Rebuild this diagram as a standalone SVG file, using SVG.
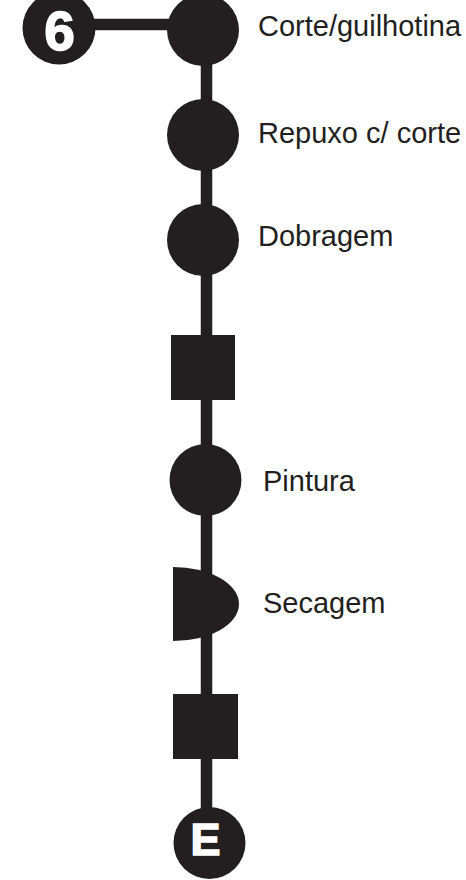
<svg xmlns="http://www.w3.org/2000/svg" width="466" height="880" viewBox="0 0 466 880">
<style>
.s{fill:#231f20}
.ln{stroke:#231f20;stroke-width:11.5;fill:none}
.lb{font-family:"Liberation Sans",Arial,sans-serif;font-size:29px;fill:#231f20}
.bd{font-family:"Liberation Sans",Arial,sans-serif;font-weight:bold;fill:#fff;stroke:#fff;stroke-width:1.5;text-anchor:middle}
</style>
<rect width="466" height="880" fill="#fff"/>
<g id="connectors">
<line class="ln" x1="90" y1="24.5" x2="180" y2="24.5"/>
<line class="ln" x1="206.5" y1="30" x2="206.5" y2="815"/>
</g>
<g id="start6">
<circle class="s" cx="59" cy="28" r="36.5"/>
<text class="bd" x="59.5" y="50" font-size="55">6</text>
</g>
<g id="corte">
<circle class="s" cx="203" cy="30" r="36"/>
<text class="lb" x="258" y="36">Corte/guilhotina</text>
</g>
<g id="repuxo">
<circle class="s" cx="203" cy="135" r="36"/>
<text class="lb" x="258" y="143">Repuxo c/ corte</text>
</g>
<g id="dobragem">
<circle class="s" cx="203" cy="240" r="36"/>
<text class="lb" x="258" y="246">Dobragem</text>
</g>
<g id="inspecao1">
<rect class="s" x="171" y="335" width="64" height="65"/>
</g>
<g id="pintura">
<circle class="s" cx="205.5" cy="480" r="36"/>
<text class="lb" x="263" y="491">Pintura</text>
</g>
<g id="secagem">
<path class="s" d="M173,567 A66,37 0 0 1 173,641 Z"/>
<text class="lb" x="263" y="613">Secagem</text>
</g>
<g id="inspecao2">
<rect class="s" x="173" y="694" width="65" height="65"/>
</g>
<g id="endE">
<circle class="s" cx="209.5" cy="843" r="36"/>
<text class="bd" x="205.5" y="855" font-size="45">E</text>
</g>
</svg>
